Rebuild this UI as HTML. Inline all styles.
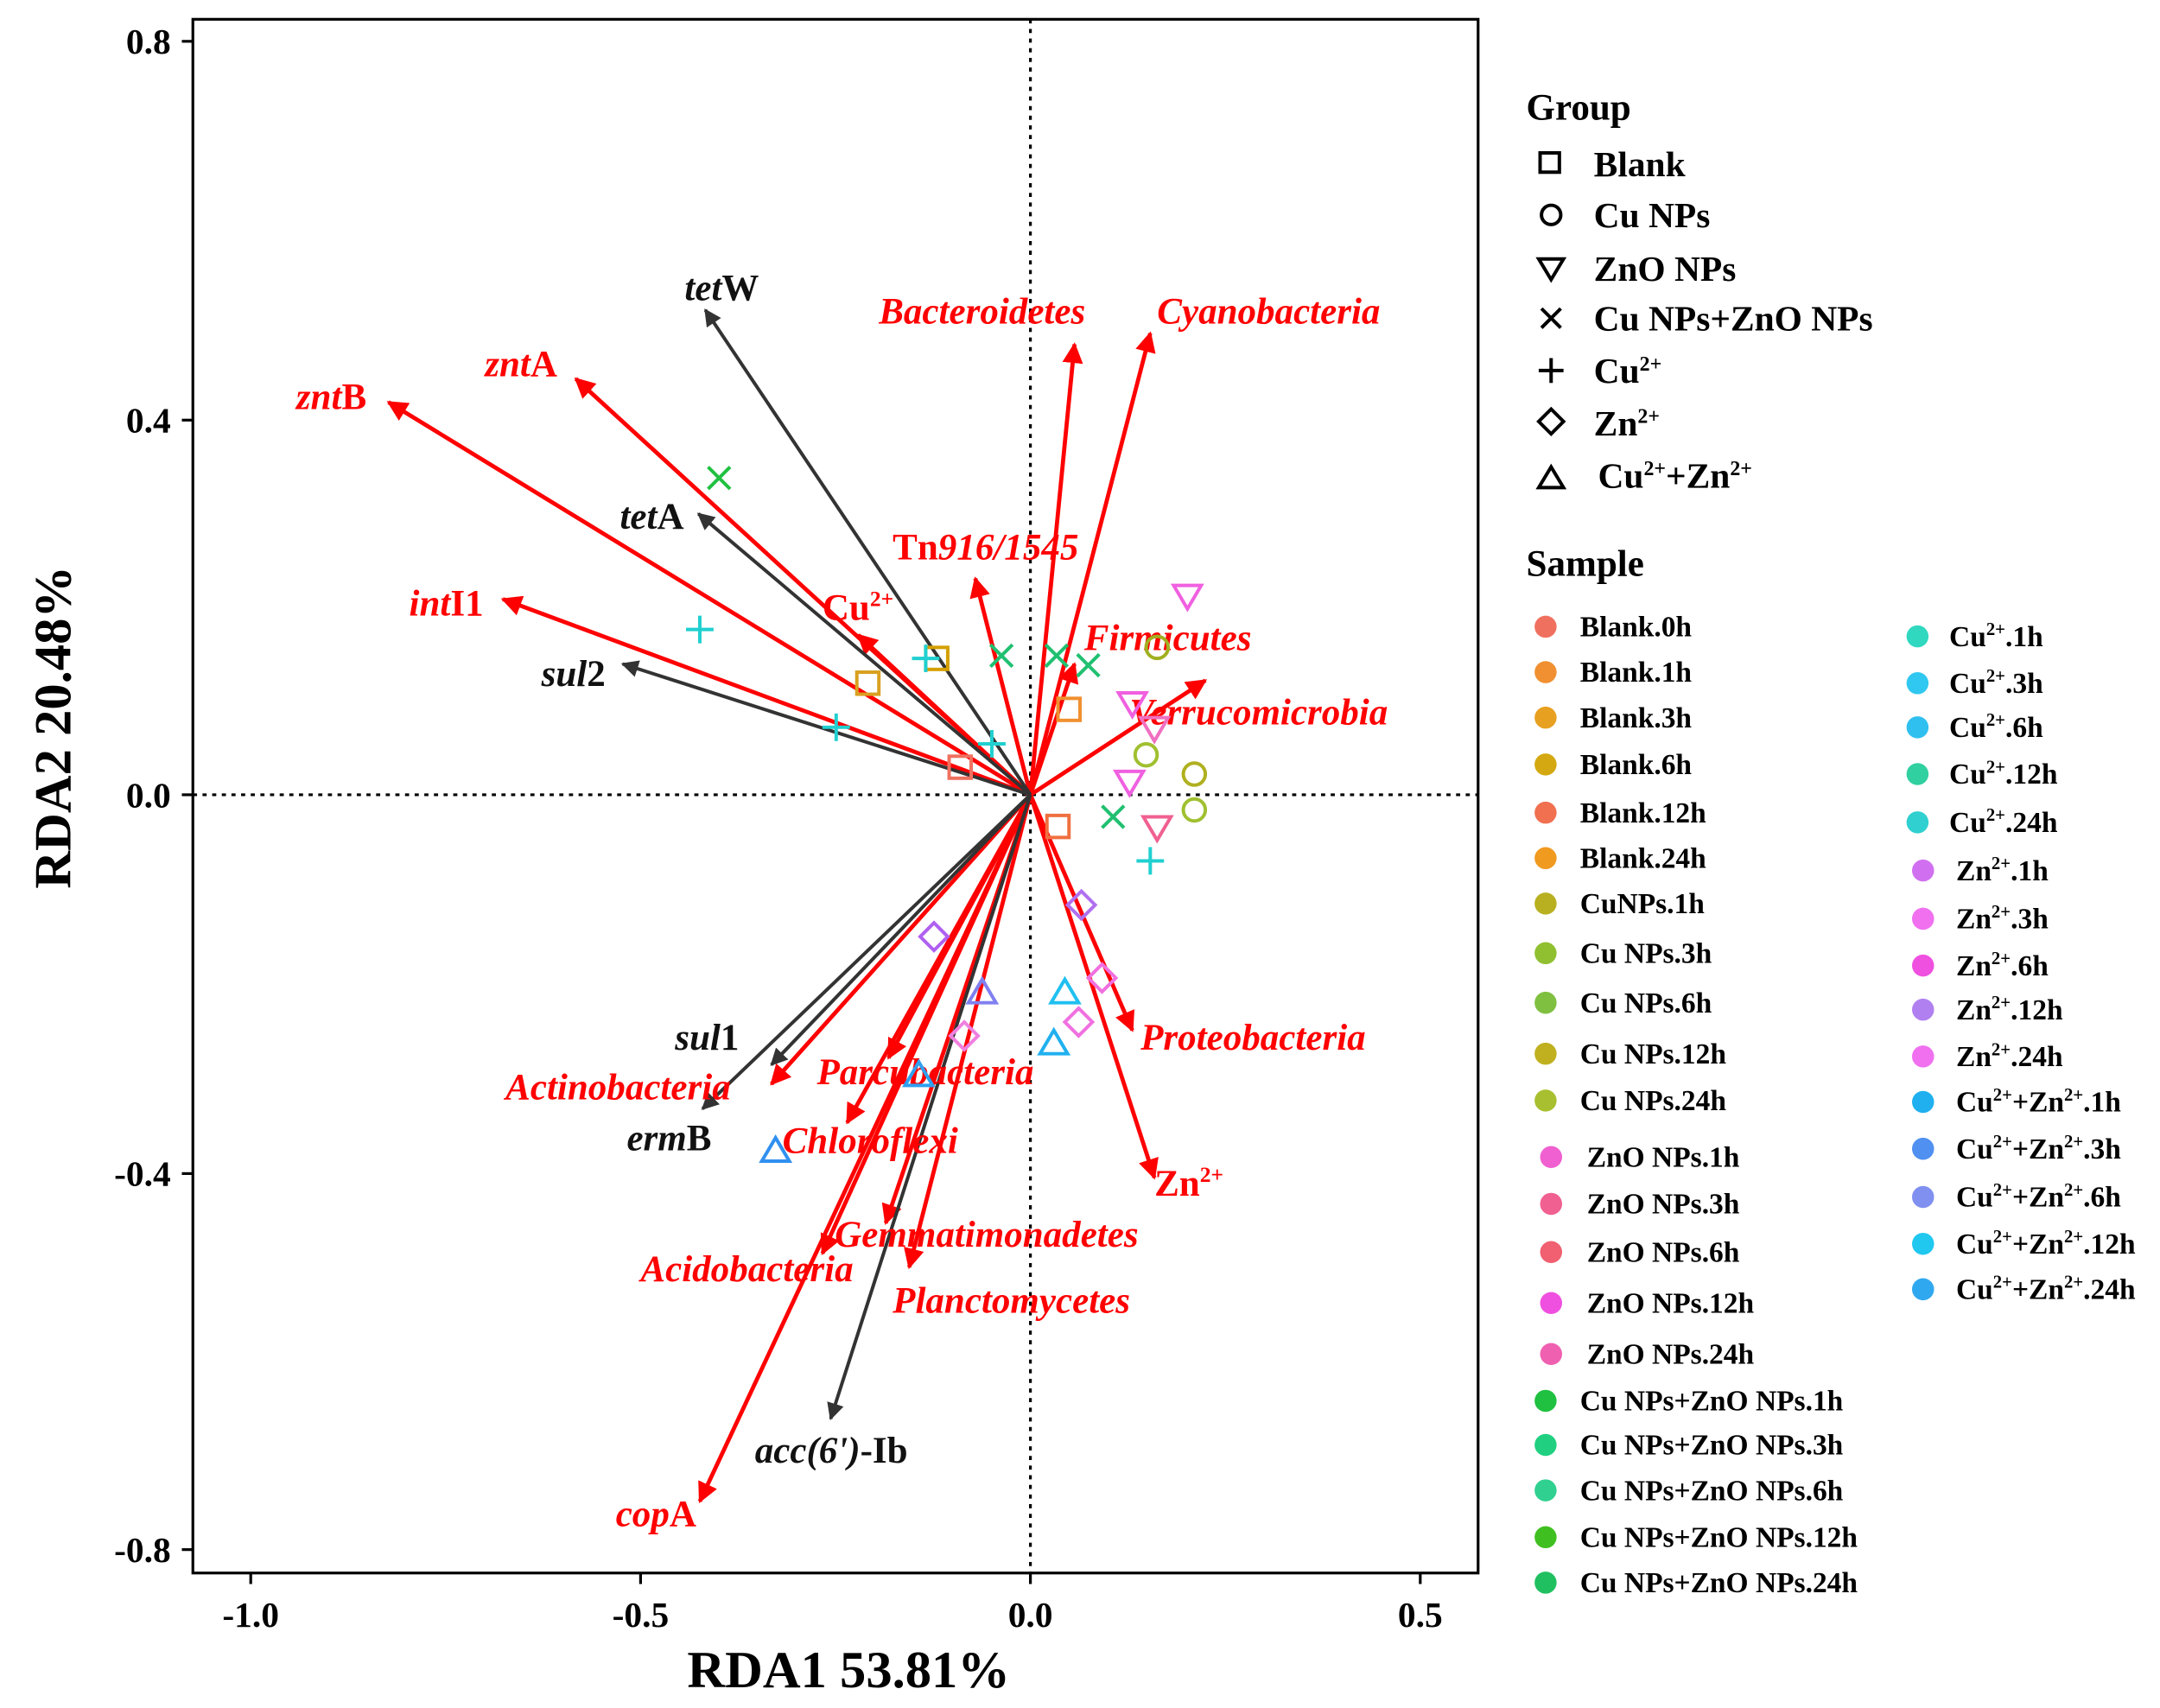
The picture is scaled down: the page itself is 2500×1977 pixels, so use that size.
<!DOCTYPE html>
<html><head><meta charset="utf-8"><style>html,body{margin:0;padding:0;background:#fff}svg{display:block}</style></head><body>
<svg width="2500" height="1977" viewBox="0 0 1568 1240" xmlns="http://www.w3.org/2000/svg" font-family="Liberation Serif, serif" font-weight="bold">
<defs>
<marker id="ar" viewBox="0 0 10 10" refX="9" refY="5" markerWidth="5" markerHeight="5" orient="auto"><path d="M0,0L10,5L0,10z" fill="#f00"/></marker>
<marker id="ab" viewBox="0 0 10 10" refX="9" refY="5" markerWidth="5" markerHeight="5" orient="auto"><path d="M0,0L10,5L0,10z" fill="#333"/></marker>
</defs>
<rect x="140" y="14" width="933" height="1128" fill="none" stroke="#000" stroke-width="2"/>
<line x1="140" y1="577" x2="1073" y2="577" stroke="#000" stroke-width="2" stroke-dasharray="3,4"/>
<line x1="748" y1="14" x2="748" y2="1142" stroke="#000" stroke-width="2" stroke-dasharray="3,4"/>
<g stroke="#000" stroke-width="2">
<line x1="182" y1="1142" x2="182" y2="1150"/><line x1="465" y1="1142" x2="465" y2="1150"/><line x1="748" y1="1142" x2="748" y2="1150"/><line x1="1031" y1="1142" x2="1031" y2="1150"/>
<line x1="132" y1="30" x2="140" y2="30"/><line x1="132" y1="305" x2="140" y2="305"/><line x1="132" y1="577" x2="140" y2="577"/><line x1="132" y1="852" x2="140" y2="852"/><line x1="132" y1="1125" x2="140" y2="1125"/>
</g>
<g font-size="26" text-anchor="middle">
<text x="182" y="1181">-1.0</text><text x="465" y="1181">-0.5</text><text x="748" y="1181">0.0</text><text x="1031" y="1181">0.5</text>
</g>
<g font-size="26" text-anchor="end">
<text x="124" y="39">0.8</text><text x="124" y="314">0.4</text><text x="124" y="586">0.0</text><text x="124" y="861">-0.4</text><text x="124" y="1134">-0.8</text>
</g>
<text x="616" y="1225" font-size="38" text-anchor="middle">RDA1 53.81%</text>
<text transform="translate(51,528) rotate(-90)" font-size="38" text-anchor="middle">RDA2 20.48%</text>
<g stroke="#f00" stroke-width="3" marker-end="url(#ar)">
<line x1="748" y1="577" x2="282" y2="292"/><line x1="748" y1="577" x2="418" y2="275"/><line x1="748" y1="577" x2="365" y2="435"/>
<line x1="748" y1="577" x2="623" y2="461"/><line x1="748" y1="577" x2="708" y2="420"/><line x1="748" y1="577" x2="780" y2="250"/>
<line x1="748" y1="577" x2="835" y2="242"/><line x1="748" y1="577" x2="780" y2="482"/><line x1="748" y1="577" x2="875" y2="494"/>
<line x1="748" y1="577" x2="822" y2="748"/><line x1="748" y1="577" x2="838" y2="855"/><line x1="748" y1="577" x2="560" y2="787"/>
<line x1="748" y1="577" x2="645" y2="768"/><line x1="748" y1="577" x2="615" y2="815"/><line x1="748" y1="577" x2="597" y2="910"/>
<line x1="748" y1="577" x2="643" y2="888"/><line x1="748" y1="577" x2="660" y2="920"/><line x1="748" y1="577" x2="508" y2="1090"/>
</g>
<g stroke="#333" stroke-width="2.5" marker-end="url(#ab)">
<line x1="748" y1="577" x2="512" y2="225"/><line x1="748" y1="577" x2="507" y2="373"/><line x1="748" y1="577" x2="452" y2="482"/>
<line x1="748" y1="577" x2="560" y2="773"/><line x1="748" y1="577" x2="510" y2="805"/><line x1="748" y1="577" x2="603" y2="1030"/>
</g>
<g font-size="27" fill="#f00" font-style="italic">
<text x="215" y="297"><tspan>znt</tspan><tspan font-style="normal">B</tspan></text>
<text x="352" y="273"><tspan>znt</tspan><tspan font-style="normal">A</tspan></text>
<text x="297" y="447"><tspan>int</tspan><tspan font-style="normal">I1</tspan></text>
<text x="597" y="450" font-style="normal">Cu<tspan font-size="16" dy="-10">2+</tspan></text>
<text x="648" y="406"><tspan font-style="normal">Tn</tspan>916/1545</text>
<text x="638" y="235">Bacteroidetes</text>
<text x="840" y="235">Cyanobacteria</text>
<text x="787" y="472">Firmicutes</text>
<text x="820" y="526">Verrucomicrobia</text>
<text x="828" y="762">Proteobacteria</text>
<text x="838" y="868" font-style="normal">Zn<tspan font-size="16" dy="-10">2+</tspan></text>
<text x="367" y="798">Actinobacteria</text>
<text x="593" y="787">Parcubacteria</text>
<text x="568" y="837">Chloroflexi</text>
<text x="606" y="905">Gemmatimonadetes</text>
<text x="465" y="930">Acidobacteria</text>
<text x="648" y="953">Planctomycetes</text>
<text x="447" y="1108"><tspan>cop</tspan><tspan font-style="normal">A</tspan></text>
</g>
<g font-size="27" fill="#111" font-style="italic">
<text x="497" y="218"><tspan>tet</tspan><tspan font-style="normal">W</tspan></text>
<text x="450" y="384"><tspan>tet</tspan><tspan font-style="normal">A</tspan></text>
<text x="393" y="498"><tspan>sul</tspan><tspan font-style="normal">2</tspan></text>
<text x="490" y="762"><tspan>sul</tspan><tspan font-style="normal">1</tspan></text>
<text x="455" y="835"><tspan>erm</tspan><tspan font-style="normal">B</tspan></text>
<text x="548" y="1062">acc(6')<tspan font-style="normal">-Ib</tspan></text>
</g>
<g fill="none" stroke-width="2.5">
<rect x="622" y="488" width="16" height="16" stroke="#d9a020"/><rect x="672" y="470" width="16" height="16" stroke="#d4a000"/><rect x="768" y="507" width="16" height="16" stroke="#f09030"/><rect x="760" y="592" width="16" height="16" stroke="#f07040"/><rect x="689" y="549" width="16" height="16" stroke="#f07060"/>
<circle cx="840" cy="470" r="8" stroke="#a0b020"/><circle cx="867" cy="562" r="8" stroke="#b0b020"/><circle cx="867" cy="588" r="8" stroke="#a0c030"/><circle cx="832" cy="548" r="8" stroke="#a0c030"/>
<path d="M852,425h20l-10,17z" stroke="#f060e0"/><path d="M812,503h20l-10,17z" stroke="#f060e0"/><path d="M828,521h20l-10,17z" stroke="#f070c0"/><path d="M810,560h20l-10,17z" stroke="#f060e0"/><path d="M830,593h20l-10,17z" stroke="#f06090"/>
<g stroke="#20c040"><path d="M514,339l16,16M530,339l-16,16"/></g>
<g stroke="#20c070"><path d="M719,468l16,16M735,468l-16,16M759,468l16,16M775,468l-16,16M782,475l16,16M798,475l-16,16M800,585l16,16M816,585l-16,16"/></g>
<g stroke="#20d0d0"><path d="M508,447v20M498,457h20M607,518v20M597,528h20M672,468v20M662,478h20M720,530v20M710,540h20M835,615v20M825,625h20"/></g>
<path d="M678,670l10,10l-10,10l-10,-10z" stroke="#b060f0"/><path d="M785,647l10,10l-10,10l-10,-10z" stroke="#b070f0"/><path d="M800,700l10,10l-10,10l-10,-10z" stroke="#f070e0"/><path d="M783,732l10,10l-10,10l-10,-10z" stroke="#f070e0"/><path d="M700,742l10,10l-10,10l-10,-10z" stroke="#f080e0"/>
<path d="M553,843h20l-10,-17z" stroke="#3090f0"/><path d="M657,788h20l-10,-17z" stroke="#30a0f0"/><path d="M703,728h20l-10,-17z" stroke="#8080f0"/><path d="M763,728h20l-10,-17z" stroke="#20c0f0"/><path d="M755,765h20l-10,-17z" stroke="#20b0f0"/>
</g>
<g font-size="27"><text x="1108" y="87">Group</text><text x="1108" y="418">Sample</text></g>
<g font-size="26">
<rect x="1118" y="111" width="14" height="14" fill="none" stroke="#000" stroke-width="2.5"/><text x="1157" y="128">Blank</text>
<circle cx="1126" cy="156" r="7" fill="none" stroke="#000" stroke-width="2.5"/><text x="1157" y="165">Cu NPs</text>
<path d="M1117,188h18l-9,15z" fill="none" stroke="#000" stroke-width="2.5"/><text x="1157" y="204">ZnO NPs</text>
<path d="M1119,224l14,14M1133,224l-14,14" stroke="#000" stroke-width="2.5"/><text x="1157" y="240">Cu NPs+ZnO NPs</text>
<path d="M1126,260v18M1117,269h18" stroke="#000" stroke-width="2.5"/><text x="1157" y="278">Cu<tspan font-size="15" dy="-9">2+</tspan></text>
<path d="M1126,297l9,9l-9,9l-9,-9z" fill="none" stroke="#000" stroke-width="2.5"/><text x="1157" y="316">Zn<tspan font-size="15" dy="-9">2+</tspan></text>
<path d="M1117,354h18l-9,-15z" fill="none" stroke="#000" stroke-width="2.5"/><text x="1160" y="354">Cu<tspan font-size="15" dy="-9">2+</tspan><tspan dy="9">+Zn</tspan><tspan font-size="15" dy="-9">2+</tspan></text>
</g>
<g font-size="21">
<circle cx="1122" cy="455" r="8" fill="#f07060"/><text x="1147" y="462">Blank.0h</text>
<circle cx="1122" cy="488" r="8" fill="#f09030"/><text x="1147" y="495">Blank.1h</text>
<circle cx="1122" cy="521" r="8" fill="#e8a020"/><text x="1147" y="528">Blank.3h</text>
<circle cx="1122" cy="555" r="8" fill="#d4a810"/><text x="1147" y="562">Blank.6h</text>
<circle cx="1122" cy="590" r="8" fill="#f07050"/><text x="1147" y="597">Blank.12h</text>
<circle cx="1122" cy="623" r="8" fill="#f09a20"/><text x="1147" y="630">Blank.24h</text>
<circle cx="1122" cy="656" r="8" fill="#b8b020"/><text x="1147" y="663">CuNPs.1h</text>
<circle cx="1122" cy="692" r="8" fill="#90c030"/><text x="1147" y="699">Cu NPs.3h</text>
<circle cx="1122" cy="728" r="8" fill="#80c040"/><text x="1147" y="735">Cu NPs.6h</text>
<circle cx="1122" cy="765" r="8" fill="#c0b020"/><text x="1147" y="772">Cu NPs.12h</text>
<circle cx="1122" cy="799" r="8" fill="#a8c030"/><text x="1147" y="806">Cu NPs.24h</text>
<circle cx="1126" cy="840" r="8" fill="#f060d0"/><text x="1152" y="847">ZnO NPs.1h</text>
<circle cx="1126" cy="874" r="8" fill="#f06090"/><text x="1152" y="881">ZnO NPs.3h</text>
<circle cx="1126" cy="909" r="8" fill="#f06070"/><text x="1152" y="916">ZnO NPs.6h</text>
<circle cx="1126" cy="946" r="8" fill="#f050e0"/><text x="1152" y="953">ZnO NPs.12h</text>
<circle cx="1126" cy="983" r="8" fill="#f060b0"/><text x="1152" y="990">ZnO NPs.24h</text>
<circle cx="1122" cy="1017" r="8" fill="#20c040"/><text x="1147" y="1024">Cu NPs+ZnO NPs.1h</text>
<circle cx="1122" cy="1049" r="8" fill="#20d080"/><text x="1147" y="1056">Cu NPs+ZnO NPs.3h</text>
<circle cx="1122" cy="1082" r="8" fill="#30d090"/><text x="1147" y="1089">Cu NPs+ZnO NPs.6h</text>
<circle cx="1122" cy="1116" r="8" fill="#40c020"/><text x="1147" y="1123">Cu NPs+ZnO NPs.12h</text>
<circle cx="1122" cy="1149" r="8" fill="#20c060"/><text x="1147" y="1156">Cu NPs+ZnO NPs.24h</text>
<circle cx="1392" cy="462" r="8" fill="#30d8c0"/><text x="1415" y="469">Cu<tspan font-size="13" dy="-8">2+</tspan><tspan dy="8">.1h</tspan></text>
<circle cx="1392" cy="496" r="8" fill="#30c8f0"/><text x="1415" y="503">Cu<tspan font-size="13" dy="-8">2+</tspan><tspan dy="8">.3h</tspan></text>
<circle cx="1392" cy="528" r="8" fill="#30c0f0"/><text x="1415" y="535">Cu<tspan font-size="13" dy="-8">2+</tspan><tspan dy="8">.6h</tspan></text>
<circle cx="1392" cy="562" r="8" fill="#30d0a0"/><text x="1415" y="569">Cu<tspan font-size="13" dy="-8">2+</tspan><tspan dy="8">.12h</tspan></text>
<circle cx="1392" cy="597" r="8" fill="#30d0d0"/><text x="1415" y="604">Cu<tspan font-size="13" dy="-8">2+</tspan><tspan dy="8">.24h</tspan></text>
<circle cx="1396" cy="632" r="8" fill="#d070f0"/><text x="1420" y="639">Zn<tspan font-size="13" dy="-8">2+</tspan><tspan dy="8">.1h</tspan></text>
<circle cx="1396" cy="667" r="8" fill="#f070f0"/><text x="1420" y="674">Zn<tspan font-size="13" dy="-8">2+</tspan><tspan dy="8">.3h</tspan></text>
<circle cx="1396" cy="701" r="8" fill="#f050e0"/><text x="1420" y="708">Zn<tspan font-size="13" dy="-8">2+</tspan><tspan dy="8">.6h</tspan></text>
<circle cx="1396" cy="733" r="8" fill="#b080f0"/><text x="1420" y="740">Zn<tspan font-size="13" dy="-8">2+</tspan><tspan dy="8">.12h</tspan></text>
<circle cx="1396" cy="767" r="8" fill="#f070f0"/><text x="1420" y="774">Zn<tspan font-size="13" dy="-8">2+</tspan><tspan dy="8">.24h</tspan></text>
<circle cx="1396" cy="800" r="8" fill="#20b0f0"/><text x="1420" y="807">Cu<tspan font-size="13" dy="-8">2+</tspan><tspan dy="8">+Zn</tspan><tspan font-size="13" dy="-8">2+</tspan><tspan dy="8">.1h</tspan></text>
<circle cx="1396" cy="834" r="8" fill="#5090f0"/><text x="1420" y="841">Cu<tspan font-size="13" dy="-8">2+</tspan><tspan dy="8">+Zn</tspan><tspan font-size="13" dy="-8">2+</tspan><tspan dy="8">.3h</tspan></text>
<circle cx="1396" cy="869" r="8" fill="#8090f0"/><text x="1420" y="876">Cu<tspan font-size="13" dy="-8">2+</tspan><tspan dy="8">+Zn</tspan><tspan font-size="13" dy="-8">2+</tspan><tspan dy="8">.6h</tspan></text>
<circle cx="1396" cy="903" r="8" fill="#20c8f0"/><text x="1420" y="910">Cu<tspan font-size="13" dy="-8">2+</tspan><tspan dy="8">+Zn</tspan><tspan font-size="13" dy="-8">2+</tspan><tspan dy="8">.12h</tspan></text>
<circle cx="1396" cy="936" r="8" fill="#30a8f0"/><text x="1420" y="943">Cu<tspan font-size="13" dy="-8">2+</tspan><tspan dy="8">+Zn</tspan><tspan font-size="13" dy="-8">2+</tspan><tspan dy="8">.24h</tspan></text>
</g>
</svg>
</body></html>
